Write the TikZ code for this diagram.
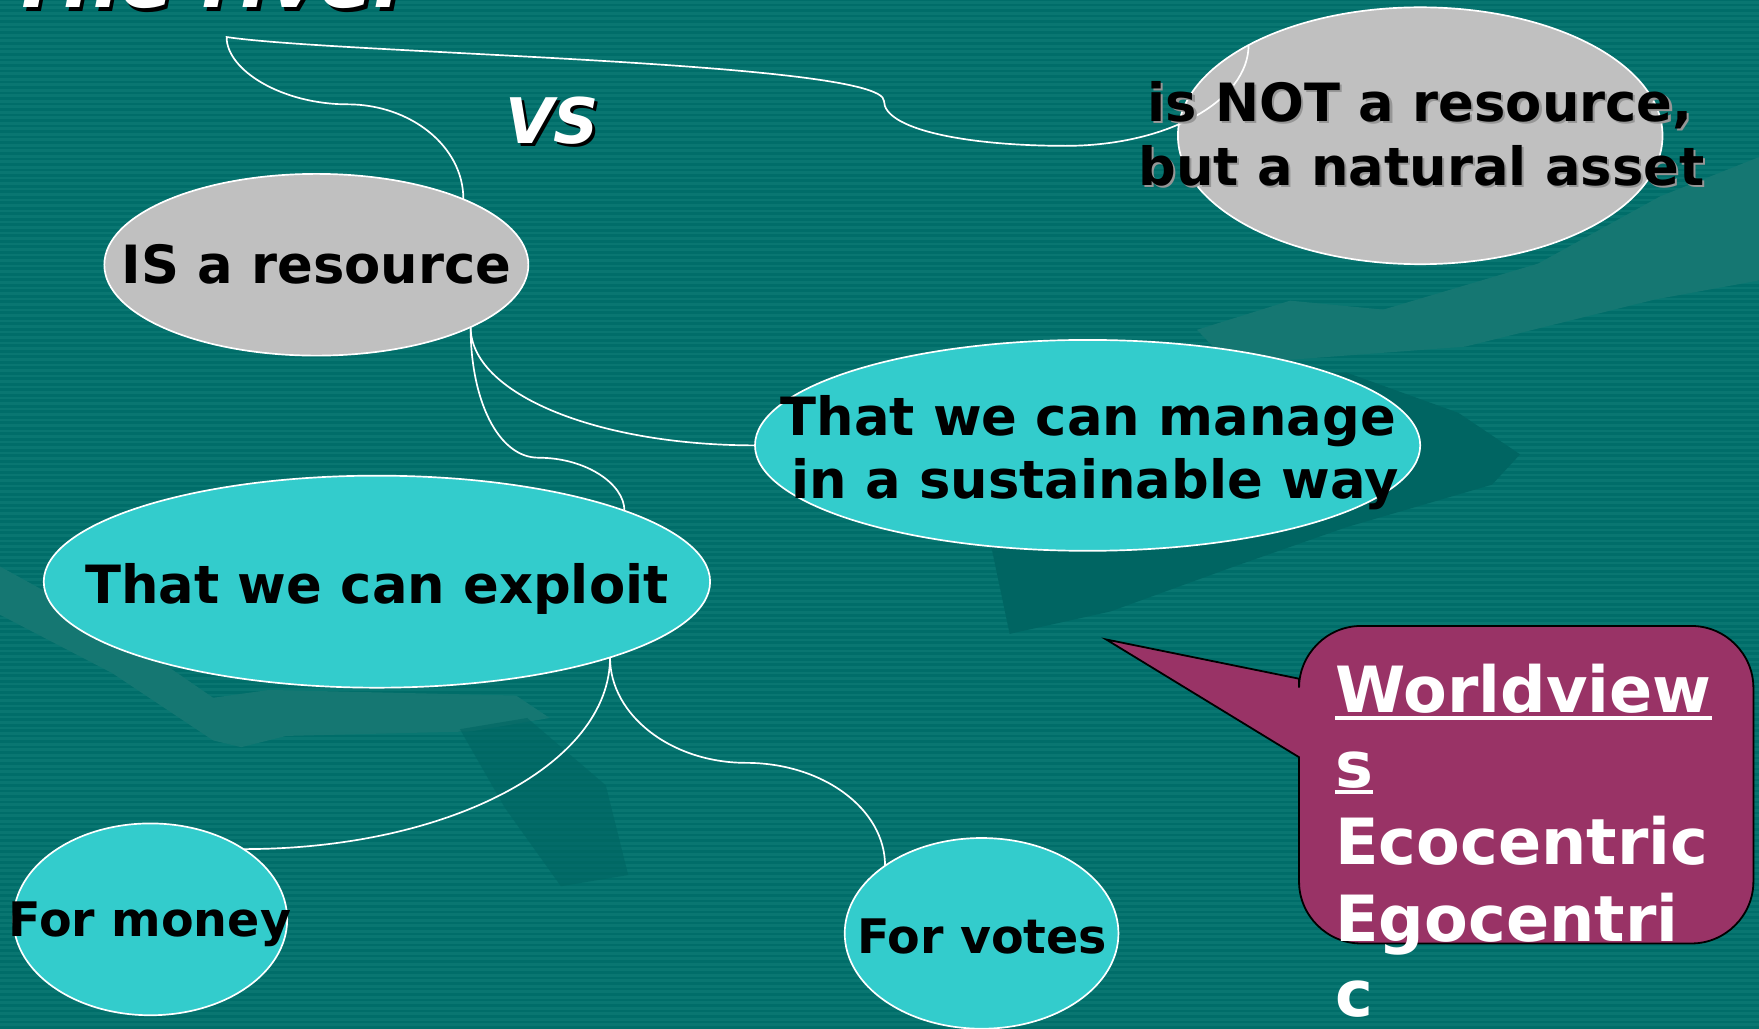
\documentclass[tikz,border=0pt]{standalone}
\usepackage{fontspec}
\setmainfont{DejaVu Sans}
\usetikzlibrary{shapes.geometric}
\definecolor{bgteal}{RGB}{0,109,105}
\definecolor{stripecol}{RGB}{9,118,113}
\definecolor{lightdeco}{RGB}{21,119,114}
\definecolor{darkdeco}{RGB}{0,101,98}
\definecolor{cyanfill}{RGB}{51,204,204}
\definecolor{grayfill}{RGB}{192,192,192}
\definecolor{callfill}{RGB}{153,51,102}
\definecolor{shadowgray}{RGB}{150,150,150}
\newcommand\ulbar[1]{\setbox0=\hbox{#1}\rlap{\rule[-3.0pt]{\wd0}{1.8pt}}\box0}
\begin{document}
\begin{tikzpicture}[x=0.5pt,y=-0.5pt,
  bubble/.style={ellipse, draw=white, line width=0.75pt, inner sep=0pt, outer sep=0pt},
  grayb/.style={bubble, fill=grayfill},
  cyanb/.style={bubble, fill=cyanfill},
  conn/.style={draw=white, line width=0.75pt},
  bigtxt/.style={font=\fontsize{23.5}{28}\selectfont\bfseries, inner sep=0pt, anchor=base},
  smalltxt/.style={font=\fontsize{21.2}{25}\selectfont\bfseries, inner sep=0pt, anchor=base},
  calltxt/.style={font=\fontsize{28.4}{34}\selectfont\bfseries, text=white, inner sep=0pt, anchor=base west},
  titletxt/.style={font=\fontsize{35.4}{42}\selectfont\bfseries\itshape, inner sep=0pt, anchor=base west},
  vstxt/.style={font=\fontsize{28}{34}\selectfont\bfseries\itshape, inner sep=0pt, anchor=base west},
]
\useasboundingbox (0,0) rectangle (1568,917);
\clip (0,0) rectangle (1568,917);
% background
\fill[bgteal] (0,0) rectangle (1568,917);
\foreach \yy in {2,6.9,...,917} {\draw[stripecol, line width=1.2pt] (0,\yy) -- (1568,\yy);}
% background decorations
\fill[lightdeco] (1067,294) -- (1150,268) -- (1233,276) -- (1371,235) -- (1480,175) -- (1568,140) -- (1568,250) -- (1475,267) -- (1306,309) -- (1146,321) -- (1090,318) -- cycle;
\fill[darkdeco] (880,470) -- (960,420) -- (1100,345) -- (1200,332) -- (1300,368) -- (1355,405) -- (1330,432) -- (1200,470) -- (1100,505) -- (990,545) -- (900,565) -- cycle;
\fill[lightdeco] (0,505) -- (100,560) -- (190,622) -- (240,615) -- (460,620) -- (490,640) -- (420,652) -- (255,656) -- (215,666) -- (190,660) -- (100,600) -- (0,548) -- cycle;
\fill[darkdeco, opacity=0.6] (410,650) -- (470,640) -- (540,700) -- (560,780) -- (500,790) -- (450,720) -- cycle;

% ellipses
\node[grayb, minimum width=189pt, minimum height=81pt] (is) at (282,236) {};
\node[grayb, minimum width=216pt, minimum height=114.5pt] (isnot) at (1266,121) {};
\node[cyanb, minimum width=296.5pt, minimum height=94pt] (manage) at (969.5,397) {};
\node[cyanb, minimum width=297pt, minimum height=94.5pt] (exploit) at (336,518.5) {};
\node[cyanb, minimum width=122pt, minimum height=85.5pt] (money) at (134,819.5) {};
\node[cyanb, minimum width=122pt, minimum height=85pt] (votes) at (875,832) {};

% connector waypoints
\coordinate (k1) at (310,93);
\coordinate (k2) at (202,33);
\coordinate (k3) at (788,90);
\coordinate (k4) at (950,130);
\coordinate (k5) at (1113,40);
\coordinate (k6) at (480,408);
\coordinate (k7) at (665,680);

% connectors
\draw[conn] (is.24) .. controls +(0,-48) and +(55,0) .. (k1)
  .. controls +(-58,0) and +(0,30) .. (k2)
  .. controls +(100,15) and +(0,-35) .. (k3)
  .. controls +(0,25) and +(-90,0) .. (k4)
  .. controls +(90,0) and +(0,50) .. (k5);
\draw[conn] (is.-22) .. controls +(0,59) and +(-142,0) .. (manage.west);
\draw[conn] (is.-22) .. controls +(0,65) and +(-36,0) .. (k6)
  .. controls +(42,0) and +(0,-24) .. (exploit.16.5);
\draw[conn] (exploit.-18) .. controls +(0,95) and +(183,0) .. (money.37.5);
\draw[conn] (exploit.-18) .. controls +(0,52) and +(-66,0) .. (k7)
  .. controls +(68,0) and +(0,-51) .. (votes.145);

% callout
\draw[fill=callfill, draw=black, line width=0.8pt] (986,570) -- (1158,605) -- (1158,613)
  .. controls (1158,583) and (1183,558) .. (1213,558) -- (1508,558)
  .. controls (1538,558) and (1563,583) .. (1563,613) -- (1563,786)
  .. controls (1563,816) and (1538,841) .. (1508,841) -- (1213,841)
  .. controls (1183,841) and (1158,816) .. (1158,786) -- (1158,675) -- cycle;

% texts
\node[titletxt, text=black] (titleS) at (11,10) {The river};
\node[titletxt, text=white] (title) at (8,7) {The river};
\node[vstxt, text=black] (vsS) at (452.5,130.5) {VS};
\node[vstxt, text=white] (vs) at (450,128) {VS};

\node[bigtxt] (isT) at (282,252.6) {IS a resource};
\node[bigtxt, text=shadowgray] (isnotS1) at (1268,110.5) {is NOT a resource,};
\node[bigtxt, text=shadowgray] (isnotS2) at (1269,167) {but a natural asset};
\node[bigtxt] (isnotT1) at (1266,108.5) {is NOT a resource,};
\node[bigtxt] (isnotT2) at (1267,165) {but a natural asset};
\node[bigtxt] (manageT1) at (970,388) {That we can manage};
\node[bigtxt] (manageT2) at (976,444) {in a sustainable way};
\node[bigtxt] (exploitT) at (336,538) {That we can exploit};
\node[smalltxt] (moneyT) at (133.5,835) {For money};
\node[smalltxt] (votesT) at (875.5,850) {For votes};

\node[calltxt] (cw1) at (1190,635.5) {\ulbar{Worldview}};
\node[calltxt] (cw2) at (1190,702) {\ulbar{s}};
\node[calltxt] (cw3) at (1190,771) {Ecocentric};
\node[calltxt] (cw4) at (1190,839.5) {Egocentri};
\node[calltxt] (cw5) at (1190,906) {c};
\end{tikzpicture}
\end{document}
